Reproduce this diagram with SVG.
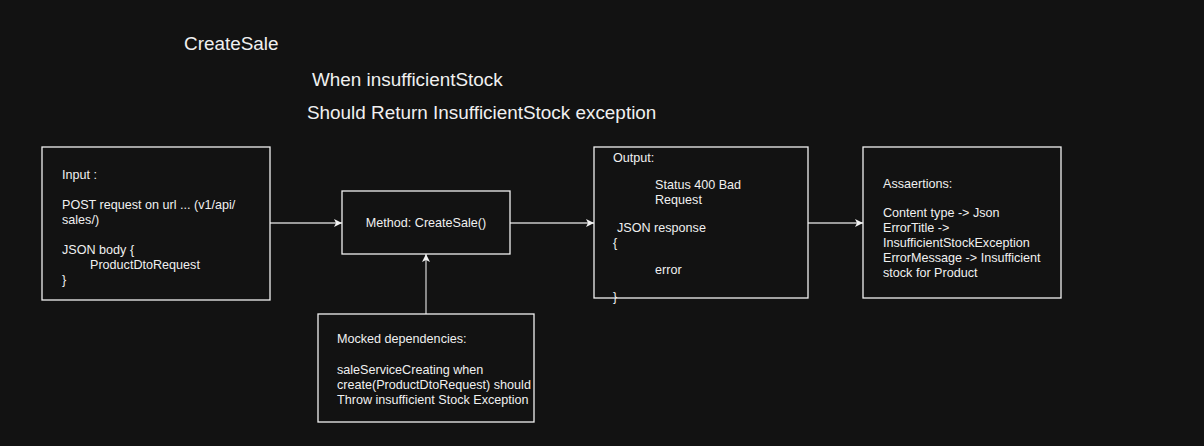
<svg xmlns="http://www.w3.org/2000/svg" width="1204" height="446" viewBox="0 0 1204 446">
<defs>
<style>
.bg{fill:#121212}
.box{fill:#121212;stroke:#f0f0f0;stroke-width:1.3}
.t{font-family:"Liberation Sans",Arial,sans-serif;font-size:12.6px;fill:#f0f0f0}
.h{font-family:"Liberation Sans",Arial,sans-serif;font-size:18.9px;fill:#f0f0f0}
.c{stroke:#c8c8c8;stroke-width:1.3;fill:none}
</style>
<marker id="ah" markerWidth="10" markerHeight="10" refX="9" refY="5" orient="auto" markerUnits="userSpaceOnUse">
<path d="M1,1 L9,5 L1,9 L3,5 Z" fill="#f0f0f0"/>
</marker>
</defs>
<rect class="bg" x="0" y="0" width="1204" height="446"/>
<g id="titles">
<text class="h" x="184" y="50">CreateSale</text>
<text class="h" x="312" y="86">When insufficientStock</text>
<text class="h" x="307" y="119">Should Return InsufficientStock exception</text>
</g>
<g id="connectors">
<line class="c" x1="270" y1="223" x2="342" y2="223" marker-end="url(#ah)"/>
<line class="c" x1="510" y1="223" x2="594" y2="223" marker-end="url(#ah)"/>
<line class="c" x1="808" y1="223" x2="863" y2="223" marker-end="url(#ah)"/>
<line class="c" x1="426" y1="314" x2="426" y2="254" marker-end="url(#ah)"/>
</g>
<g id="input">
<rect class="box" x="42" y="147" width="228" height="153"/>
<text class="t" x="62" y="179">Input :</text>
<text class="t" x="62" y="209">POST request on url ... (v1/api/</text>
<text class="t" x="62" y="224">sales/)</text>
<text class="t" x="62" y="254">JSON body {</text>
<text class="t" x="90" y="269">ProductDtoRequest</text>
<text class="t" x="62" y="284">}</text>
</g>
<g id="method">
<rect class="box" x="342" y="191" width="168" height="63"/>
<text class="t" x="426" y="227" text-anchor="middle">Method: CreateSale()</text>
</g>
<g id="output">
<rect class="box" x="594" y="147" width="214" height="151"/>
<text class="t" x="613" y="162">Output:</text>
<text class="t" x="655" y="189">Status 400 Bad</text>
<text class="t" x="655" y="204">Request</text>
<text class="t" x="617" y="232">JSON response</text>
<text class="t" x="613" y="247">{</text>
<text class="t" x="655" y="274">error</text>
<text class="t" x="613" y="301">}</text>
</g>
<g id="assertions">
<rect class="box" x="863" y="147" width="198" height="151"/>
<text class="t" x="883" y="188">Assaertions:</text>
<text class="t" x="883" y="217">Content type -&gt; Json</text>
<text class="t" x="883" y="232">ErrorTitle -&gt;</text>
<text class="t" x="883" y="247">InsufficientStockException</text>
<text class="t" x="883" y="262">ErrorMessage -&gt; Insufficient</text>
<text class="t" x="883" y="277">stock for Product</text>
</g>
<g id="mocked">
<rect class="box" x="318" y="314" width="216" height="108"/>
<text class="t" x="337" y="343">Mocked dependencies:</text>
<text class="t" x="337" y="374">saleServiceCreating when</text>
<text class="t" x="337" y="389">create(ProductDtoRequest) should</text>
<text class="t" x="337" y="404">Throw insufficient Stock Exception</text>
</g>
</svg>
